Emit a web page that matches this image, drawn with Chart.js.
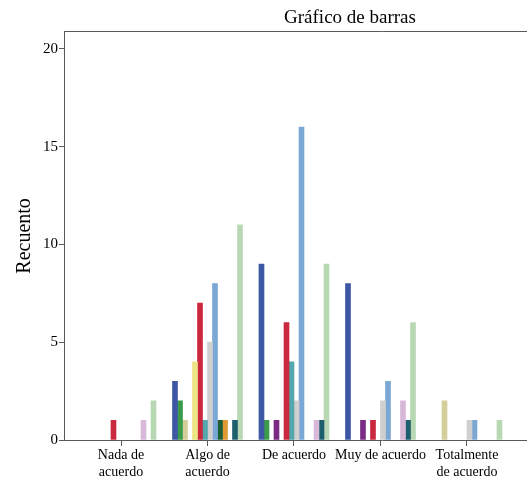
<!DOCTYPE html>
<html>
<head>
<meta charset="utf-8">
<script src="https://cdn.jsdelivr.net/npm/chart.js@4/dist/chart.umd.min.js"></script>
<style>
  body { margin: 0; background: #fff; }
  #wrap { width: 527px; height: 479px; overflow: hidden; }
</style>
</head>
<body>
<div id="wrap"><canvas id="barChart" width="710" height="479"></canvas></div>
<script>
// categorias del eje x
const categories = ["Nada de acuerdo", "Algo de acuerdo", "De acuerdo", "Muy de acuerdo", "Totalmente de acuerdo"];
const tickLabels = [["Nada de", "acuerdo"], ["Algo de", "acuerdo"], "De acuerdo", "Muy de acuerdo", ["Totalmente", "de acuerdo"]];
const yTicks = [0, 5, 10, 15, 20];

// recuentos por grupo (una serie por color)
const serie1 = [0, 3, 9, 8, 0];
const serie2 = [0, 2, 1, 0, 0];
const serie3 = [0, 1, 0, 0, 2];
const serie4 = [0, 0, 1, 1, 0];
const serie5 = [0, 4, 0, 0, 0];
const serie6 = [1, 7, 6, 1, 0];
const serie7 = [0, 1, 4, 0, 0];
const serie8 = [0, 5, 2, 2, 1];
const serie9 = [0, 8, 16, 3, 1];
const serie10 = [0, 1, 0, 0, 0];
const serie11 = [0, 1, 0, 0, 0];
const serie12 = [1, 0, 1, 2, 0];
const serie13 = [0, 1, 1, 1, 0];
const serie14 = [2, 11, 9, 6, 1];

const series = [serie1, serie2, serie3, serie4, serie5, serie6, serie7,
                serie8, serie9, serie10, serie11, serie12, serie13, serie14];
const colores = ["#3d57a5", "#3a9b4a", "#d3cf9b", "#7b2b83", "#eee684", "#c9283f", "#52a8ad",
                 "#cfcfcf", "#7ba7d4", "#1c5e36", "#e09a33", "#d8b8d9", "#1e5f6e", "#b8d8b4"];

const datasets = series.map(function (vals, s) {
  return {
    label: "Grupo " + (s + 1),
    // los ceros no se dibujan (sin marca en el eje)
    data: vals.map(function (v, i) { return { x: i, y: v === 0 ? null : v }; }),
    backgroundColor: colores[s],
    borderWidth: 0,
    barThickness: 5,
    xAxisID: "x",
    yAxisID: "y",
  };
});

const serif = "'Liberation Serif', 'Times New Roman', serif";
const axisColor = "#5a5a5a";

const config = {
  type: "bar",
  data: { datasets: datasets },
  options: {
    responsive: false,
    animation: false,
    layout: { padding: { right: 10 } },
    plugins: {
      legend: { display: false },
      tooltip: { enabled: false },
      title: {
        display: true,
        text: "Gráfico de barras",
        color: "#000",
        font: { family: serif, size: 19, weight: "normal" },
        padding: { top: 7, bottom: 2 },
      },
    },
    scales: {
      x: {
        type: "linear",
        position: "bottom",
        min: -0.659,
        max: 6.694,
        offset: false,
        afterBuildTicks: function (scale) {
          scale.ticks = categories.map(function (c, i) { return { value: i }; });
        },
        afterFit: function (scale) { scale.height = 39; },
        ticks: {
          autoSkip: false,
          maxRotation: 0,
          minRotation: 0,
          padding: 1,
          color: "#000",
          font: { family: serif, size: 14 },
          callback: function (value) { return tickLabels[value]; },
        },
        grid: { drawOnChartArea: false, offset: false, tickLength: 6, color: axisColor },
        border: { color: axisColor },
      },
      x2: {
        type: "linear",
        axis: "x",
        position: "top",
        display: true,
        min: 0,
        max: 1,
        afterFit: function (scale) { scale.height = 0; },
        ticks: { display: false },
        grid: { drawOnChartArea: false, drawTicks: false },
        border: { color: axisColor },
      },
      y: {
        min: 0,
        max: 20.87,
        afterBuildTicks: function (scale) {
          scale.ticks = yTicks.map(function (v) { return { value: v }; });
        },
        afterFit: function (scale) { scale.width = 64; },
        ticks: {
          padding: 1,
          color: "#000",
          font: { family: serif, size: 15 },
        },
        grid: { drawOnChartArea: false, tickLength: 5, color: axisColor },
        border: { color: axisColor },
        title: {
          display: true,
          text: "Recuento",
          color: "#000",
          font: { family: serif, size: 20 },
          padding: { top: 13, bottom: 0 },
        },
      },
    },
  },
};

const ctx = document.getElementById("barChart").getContext("2d");
const myBarChart = new Chart(ctx, config);
</script>
</body>
</html>
